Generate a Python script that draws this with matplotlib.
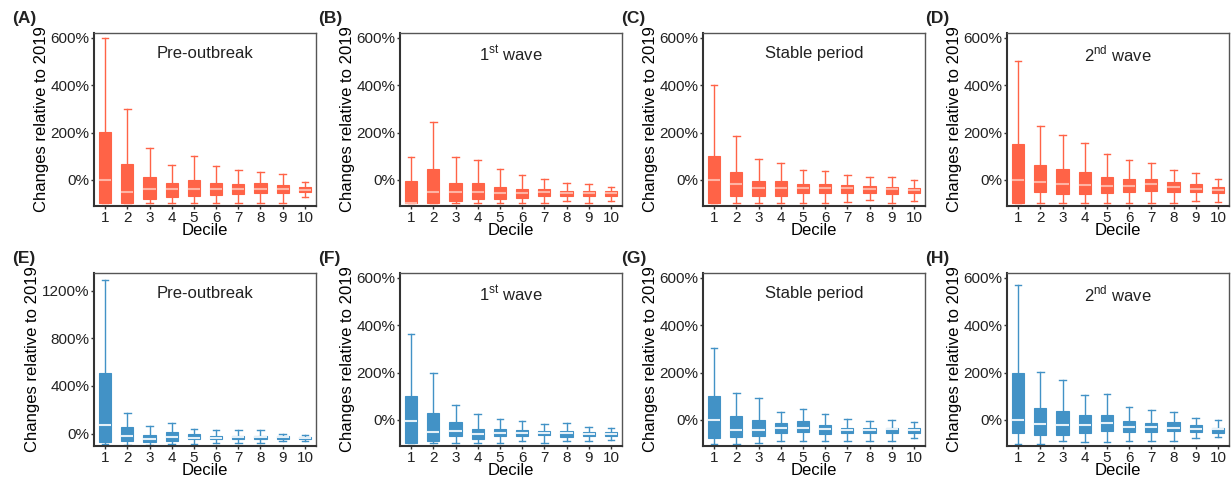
import matplotlib.pyplot as plt
from matplotlib.ticker import FuncFormatter

plt.rcParams['font.family'] = ['Liberation Sans', 'DejaVu Sans']
plt.rcParams['mathtext.fontset'] = 'custom'
plt.rcParams['mathtext.rm'] = 'Liberation Sans'
plt.rcParams['text.color'] = '#222222'

deciles = [str(i) for i in range(1, 11)]

# (whisker low, q1, median, q3, whisker high) per decile, in %
pre_red = [(-99, -99, 0, 201, 600), (-99, -99, -49, 68, 301), (-99, -79, -37, 11, 134),
           (-99, -70, -38, -13, 65), (-99, -66, -38, 0, 100), (-99, -62, -37, -13, 58),
           (-99, -58, -38, -17, 44), (-99, -54, -37, -13, 35), (-99, -54, -37, -21, 23),
           (-70, -51, -41, -30, -7)]
wave1_red = [(-99, -99, -97, -4, 96), (-99, -99, -51, 45, 244), (-99, -87, -51, -13, 96),
             (-99, -79, -49, -13, 86), (-99, -79, -56, -31, 45), (-99, -75, -54, -37, 21),
             (-99, -69, -52, -39, 3), (-89, -68, -56, -46, -13), (-99, -68, -55, -48, -18),
             (-90, -68, -57, -48, -30)]
stable_red = [(-99, -99, 0, 102, 400), (-99, -67, -18, 34, 184), (-99, -67, -35, -6, 87),
              (-99, -67, -34, -6, 71), (-99, -54, -33, -17, 40), (-99, -54, -34, -17, 38),
              (-95, -54, -35, -21, 20), (-85, -54, -37, -26, 14), (-98, -58, -37, -31, 13),
              (-89, -57, -44, -33, -1)]
wave2_red = [(-99, -99, 0, 152, 500), (-99, -50, -9, 64, 227), (-99, -58, -18, 45, 190),
             (-99, -58, -23, 33, 155), (-99, -54, -26, 11, 108), (-99, -50, -27, 3, 82),
             (-99, -45, -18, 4, 70), (-99, -50, -31, -10, 44), (-89, -50, -37, -17, 31),
             (-95, -57, -43, -31, 6)]
pre_blue = [(-88, -71, 71, 506, 1294), (-94, -60, -17, 51, 173), (-94, -68, -43, -14, 60),
            (-85, -60, -26, 9, 91), (-85, -43, -34, -6, 34), (-80, -48, -34, -17, 31),
            (-82, -48, -26, -17, 31), (-82, -45, -26, -17, 26), (-65, -45, -31, -23, -3),
            (-60, -45, -37, -31, -9)]
wave1_blue = [(-99, -99, -3, 99, 362), (-99, -88, -52, 28, 196), (-99, -68, -48, -10, 65),
              (-99, -82, -60, -40, 27), (-98, -68, -57, -40, 4), (-91, -68, -54, -44, -3),
              (-99, -65, -54, -45, -17), (-91, -71, -57, -48, -14), (-87, -67, -58, -52, -31),
              (-85, -68, -58, -50, -35)]
stable_blue = [(-100, -75, 0, 102, 303), (-100, -71, -43, 17, 115), (-98, -67, -41, 0, 92),
               (-87, -54, -33, -13, 33), (-91, -50, -33, -6, 45), (-87, -58, -37, -21, 27),
               (-87, -54, -43, -33, 6), (-87, -54, -41, -33, -3), (-87, -54, -37, -33, 0),
               (-78, -54, -44, -35, -10)]
wave2_blue = [(-100, -54, 0, 199, 568), (-100, -62, -17, 50, 201), (-91, -62, -21, 37, 167),
              (-95, -54, -23, 21, 105), (-95, -45, -14, 21, 109), (-87, -50, -28, -6, 54),
              (-89, -50, -30, -13, 44), (-88, -45, -34, -10, 35), (-78, -50, -37, -21, 10),
              (-74, -54, -40, -33, 0)]

titles = ['Pre-outbreak', r'1$^{\mathrm{st}}$ wave', 'Stable period', r'2$^{\mathrm{nd}}$ wave']
letters = ['(A)', '(B)', '(C)', '(D)', '(E)', '(F)', '(G)', '(H)']

red, red_med = '#FF6347', '#FFB4A4'
blue, blue_med = '#4292C6', '#E4F0F8'

fig = plt.figure(figsize=(12.31, 4.79), dpi=100)

lefts = [94, 400, 703, 1007]
width = 222
rows = [(33, 206), (273, 446)]
W, H = 1231, 479

panels = [pre_red, wave1_red, stable_red, wave2_red,
          pre_blue, wave1_blue, stable_blue, wave2_blue]

for k, data in enumerate(panels):
    r, c = divmod(k, 4)
    top, bot = rows[r]
    ax = fig.add_axes([lefts[c] / W, 1 - bot / H, width / W, (bot - top) / H])
    col, med = (red, red_med) if r == 0 else (blue, blue_med)

    stats = []
    for lab, (lo, q1, m, q3, hi) in zip(deciles, data):
        stats.append({'label': lab, 'whislo': lo, 'q1': q1, 'med': m,
                      'q3': q3, 'whishi': hi, 'fliers': []})
    ax.bxp(stats, positions=range(1, 11), widths=0.55, patch_artist=True,
           showfliers=False,
           boxprops=dict(facecolor=col, edgecolor=col, linewidth=0.8),
           medianprops=dict(color=med, linewidth=1.5),
           whiskerprops=dict(color=col, linewidth=1.0),
           capprops=dict(color=col, linewidth=1.0), capwidths=0.3)

    ax.set_xlim(0.5, 10.5)
    if k == 4:
        ax.set_ylim(-105, 1350)
        ax.set_yticks([0, 400, 800, 1200])
    else:
        ax.set_ylim(-110, 620)
        ax.set_yticks([0, 200, 400, 600])
    ax.yaxis.set_major_formatter(FuncFormatter(lambda v, p: f'{v:.0f}%'))
    ax.tick_params(labelsize=11, length=2, width=1, colors='#333333',
                   labelcolor='#222222', pad=1.5)
    for s in ['left', 'bottom']:
        ax.spines[s].set_linewidth(1.5)
        ax.spines[s].set_color('#333333')
    for s in ['top', 'right']:
        ax.spines[s].set_linewidth(1.0)
        ax.spines[s].set_color('#555555')

    ax.set_xlabel('Decile', fontsize=12, labelpad=-1)
    ax.set_ylabel('Changes relative to 2019', fontsize=12, labelpad=1)
    ax.text(0.5, 0.88, titles[c], transform=ax.transAxes, ha='center',
            va='center', fontsize=12)
    fig.text((lefts[c] - 82) / W, 1 - (top - 15) / H, letters[k],
             fontsize=12.5, fontweight='bold', va='center', ha='left')

fig.savefig('out.png', dpi=100)
